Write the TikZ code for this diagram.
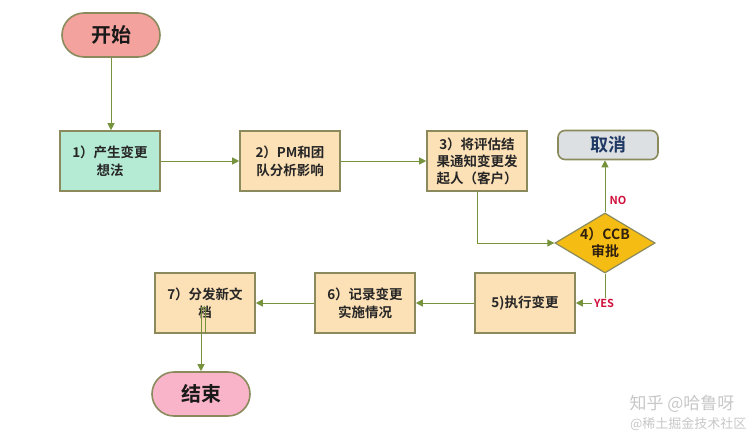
\documentclass[tikz,border=0pt]{standalone}
\usepackage{fontspec}
\setmainfont{Noto Sans CJK SC}
\newfontfamily\cjkb{Noto Sans CJK SC Bold}
\usetikzlibrary{shapes.geometric,arrows.meta}
\definecolor{bordc}{HTML}{8A8A5C}
\definecolor{arrc}{HTML}{76923C}
\definecolor{startc}{HTML}{F4A29E}
\definecolor{endc}{HTML}{F9B4CA}
\definecolor{mintc}{HTML}{B5EBD5}
\definecolor{wheatc}{HTML}{FCE0B6}
\definecolor{greyc}{HTML}{DCE0E3}
\definecolor{navyc}{HTML}{1F3864}
\definecolor{goldc}{HTML}{F5BC14}
\definecolor{redc}{HTML}{D0103A}
\tikzset{
  stepbox/.style={draw=bordc, line width=1.6pt, fill=wheatc, minimum width=100pt, minimum height=60pt, inner sep=2pt, align=center, font=\cjkb\fontsize{13.5}{18}\selectfont, text=black!85},
  pill/.style={draw=bordc, line width=1.6pt, rounded corners=22pt, minimum width=98pt, minimum height=44pt, font=\cjkb\fontsize{20}{22}\selectfont, text=black!90},
  conn/.style={draw=arrc, line width=1pt, -{Triangle[length=7pt,width=7pt]}},
  lbl/.style={font=\cjkb\fontsize{11}{12}\selectfont, text=redc, inner sep=1pt},
}
\begin{document}
\begin{tikzpicture}[x=1pt,y=-1pt]
\useasboundingbox (0,0) rectangle (754,436);
\node[pill, fill=startc] (start) at (111,35) {开始};
\node[stepbox, fill=mintc] (s1) at (110,161) {1）产生变更\\想法};
\node[stepbox] (s2) at (290,161) {2）PM和团\\队分析影响};
\node[stepbox, font=\cjkb\fontsize{13.5}{17}\selectfont] (s3) at (477,161) {3）将评估结\\果通知变更发\\起人（客户）};
\node[draw=bordc, line width=1.6pt, fill=greyc, rounded corners=7pt, minimum width=100pt, minimum height=29pt, font=\cjkb\fontsize{18}{20}\selectfont, text=navyc] (cancel) at (608,145) {取消};
\node[diamond, draw=bordc, line width=1.2pt, fill=goldc, minimum width=100pt, minimum height=60pt, aspect=1.67, inner sep=0pt, align=center, font=\cjkb\fontsize{14}{17}\selectfont, text=black!75!brown] (d4) at (605,243) {4）CCB\\审批};
\node[stepbox] (s5) at (525,303) {5)执行变更};
\node[stepbox] (s6) at (365,303) {6）记录变更\\实施情况};
\node[stepbox] (s7) at (205,303) {7）分发新文\\档};
\node[pill, fill=endc] (end) at (201,394) {结束};

\draw[conn] (start) -- (start |- s1.north);
\draw[conn] (s1) -- (s2);
\draw[conn] (s2) -- (s3);
\draw[conn] (s3.south) |- (d4.west);
\draw[conn] (d4.north) -- (d4.north |- cancel.south);
\node[lbl] (no) at (618,200) {NO};
\coordinate (yc) at (d4.south |- s5);
\draw[conn] (d4.south) -- (yc) -- (s5.east);
\node[lbl, fill=white, inner xsep=2pt] (yes) at (604,303) {YES};
\draw[conn] (s5) -- (s6);
\draw[conn] (s6) -- (s7);
\draw[conn] (s7.south) -- ++(0,-26) -| (end.north);

\node[font=\fontsize{17}{19}\selectfont, text=black!22, anchor=east] (wm1) at (738,404) {知乎 @哈鲁呀};
\node[font=\fontsize{13}{15}\selectfont, text=black!22, anchor=east] (wm2) at (750,424) {@稀土掘金技术社区};
\end{tikzpicture}
\end{document}
